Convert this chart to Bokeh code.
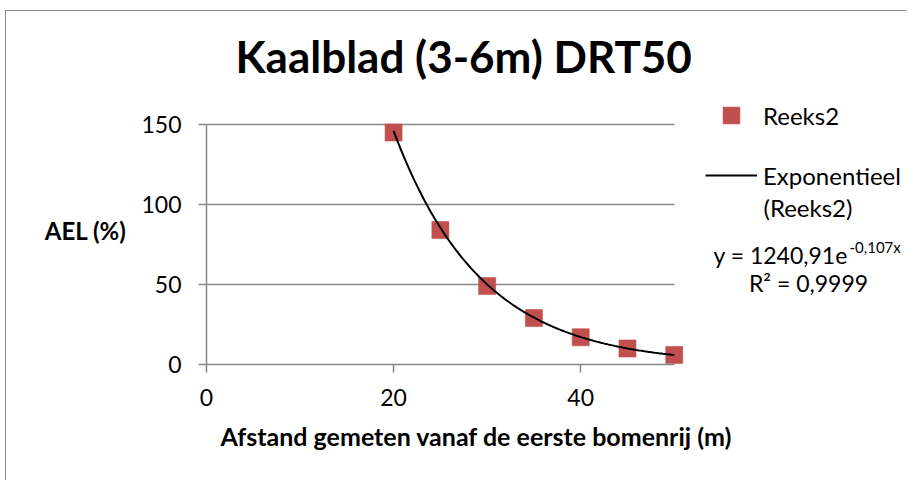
import numpy as np
from bokeh.plotting import figure
from bokeh.layouts import row
from bokeh.models import Legend, LegendItem, FixedTicker, Range1d, Title, LinearAxis, Grid
from bokeh.core.properties import value
from bokeh.embed import file_html
from bokeh.resources import INLINE

# ---- data ----
x_vals = [20, 25, 30, 35, 40, 45, 50]
y_vals = [145, 84, 49, 29, 17, 10, 6]
fit_a = 1240.91
fit_b = -0.107
x_ticks = [0, 20, 40]
y_ticks = [0, 50, 100, 150]
title_text = "Kaalblad (3-6m) DRT50"
x_title = "Afstand gemeten vanaf de eerste bomenrij (m)"
y_title = "AEL (%)"
series_name = "Reeks2"
trend_name = "Exponentieel"
trend_name2 = "(Reeks2)"
eq_main = "y = 1240,91e"
eq_sup = "-0,107x"
r2_text = "R² = 0,9999"

FONT = "Lato"
GRAY = "#868686"
RED = "#C0504D"
H = 469
W = 900
LEFT = 200
TOP = 84
BOTTOM = 116
PX_X = 9.355   # pixels per x unit
PX_Y = 1.6     # pixels per y unit
FRAME_W = W - LEFT
FRAME_H = H - TOP - BOTTOM

p = figure(width=W, height=H, output_backend="svg", toolbar_location=None,
           x_range=Range1d(0, FRAME_W / PX_X), y_range=Range1d(0, FRAME_H / PX_Y),
           min_border_left=LEFT, min_border_right=0, min_border_top=TOP, min_border_bottom=BOTTOM)
p.outline_line_color = None

p.title.text = title_text
p.title.text_font = FONT
p.title.text_font_size = "44px"
p.title.text_font_style = "bold"
p.title.text_color = "black"
p.title.align = "left"
p.title.offset = 29
p.title.standoff = 27

for ax in (p.xaxis, p.yaxis):
    ax.axis_line_color = GRAY
    ax.axis_line_width = 1.5
    ax.major_tick_line_color = GRAY
    ax.major_tick_line_width = 1.5
    ax.major_tick_out = 8
    ax.major_tick_in = 0
    ax.minor_tick_line_color = None
    ax.major_label_text_font = FONT
    ax.major_label_text_font_size = "23px"
    ax.major_label_text_color = "black"
p.xaxis.ticker = FixedTicker(ticks=x_ticks)
p.yaxis.ticker = FixedTicker(ticks=y_ticks)
p.xaxis.bounds = (0, 50)
p.yaxis.bounds = (0, 150)
p.xaxis.major_label_standoff = 16
p.yaxis.major_label_standoff = 17

p.yaxis.axis_label = y_title
p.yaxis.axis_label_text_font = FONT
p.yaxis.axis_label_text_font_size = "24px"
p.yaxis.axis_label_text_font_style = "bold"
p.yaxis.axis_label_text_color = "black"
p.yaxis.axis_label_standoff = 12
if "axis_label_orientation" in LinearAxis.properties():
    p.yaxis.axis_label_orientation = "horizontal"

p.xgrid.grid_line_color = None
p.ygrid.grid_line_color = GRAY
p.ygrid.grid_line_width = 1.5
p.ygrid.ticker = FixedTicker(ticks=y_ticks)
if "cross_bounds" in Grid.properties():
    p.ygrid.cross_bounds = (0, 50)

xt = Title(text=x_title, text_font=FONT, text_font_size="25px", text_font_style="bold",
           text_color="black", align="left", offset=14, standoff=21)
p.add_layout(xt, "below")

sq = p.scatter(x_vals, y_vals, marker="square", size=17, fill_color=RED, line_color=RED, line_alpha=0.6)
xf = np.linspace(min(x_vals), max(x_vals), 200)
yf = fit_a * np.exp(fit_b * xf)
ln = p.line(xf, yf, line_color="black", line_width=2)

legend = Legend(items=[LegendItem(label=series_name, renderers=[sq]),
                       LegendItem(label=trend_name, renderers=[ln])],
                location=(499, 168), orientation="vertical",
                glyph_width=52, glyph_height=42, label_height=42, spacing=18,
                padding=0, margin=0, label_standoff=6,
                border_line_color=None, background_fill_alpha=0,
                label_text_font=FONT, label_text_font_size="24px", label_text_color="black")
p.add_layout(legend, "center")

def dx(px):
    return (px - 206) / PX_X

def dy(py):
    return (364 - py) / PX_Y

p.text(x=[dx(763)], y=[dy(207)], text=[trend_name2], text_font=value(FONT), text_font_size="24px",
       text_baseline="alphabetic", text_align="left", text_color="black")
p.text(x=[dx(713)], y=[dy(254)], text=[eq_main], text_font=value(FONT), text_font_size="23px",
       text_baseline="alphabetic", text_align="left", text_color="black")
p.text(x=[dx(849)], y=[dy(246)], text=[eq_sup], text_font=value(FONT), text_font_size="15px",
       text_baseline="alphabetic", text_align="left", text_color="black")
p.text(x=[dx(808)], y=[dy(282)], text=[r2_text], text_font=value(FONT), text_font_size="23px",
       text_baseline="alphabetic", text_align="center", text_color="black")

layout = row(p, margin=(10, 0, 0, 5),
             styles={"border-left": "1px solid #8c8c8c", "border-top": "1px solid #8c8c8c"})

open("out.html", "w").write(file_html(layout, INLINE))
